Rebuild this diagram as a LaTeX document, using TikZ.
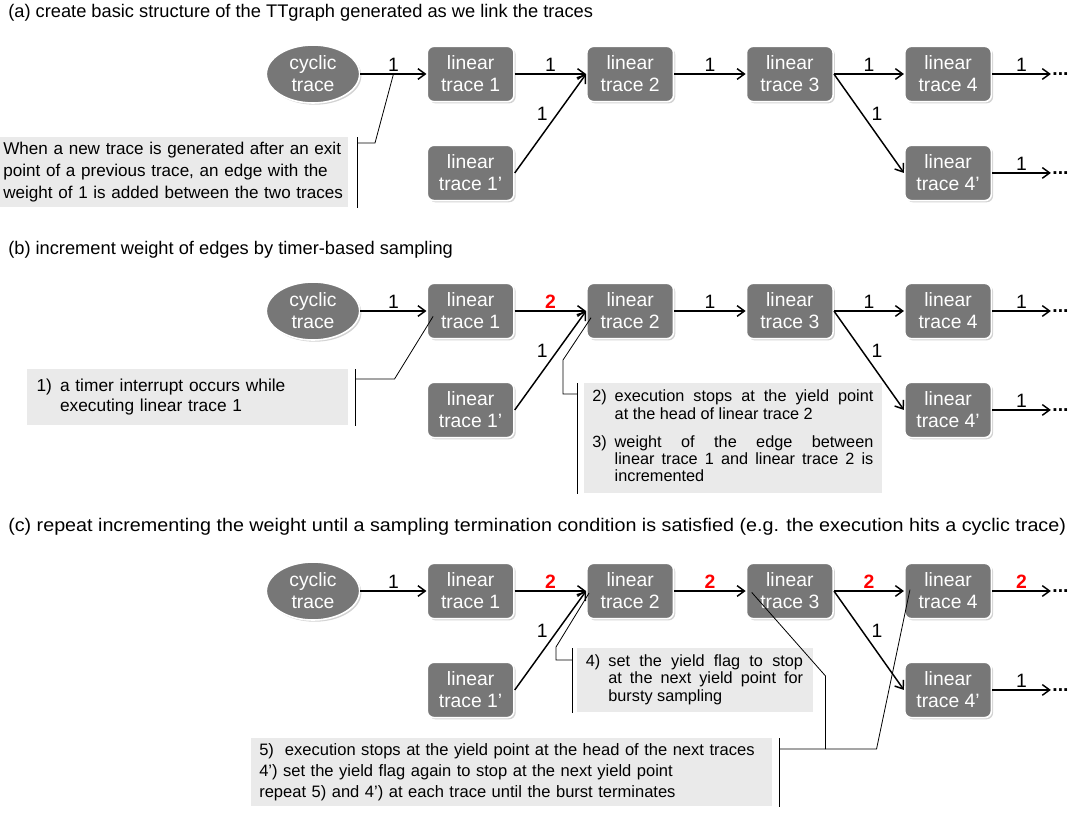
\documentclass[tikz,border=0pt]{standalone}
\usepackage{fontspec}
\setmainfont{Liberation Sans}
\newfontfamily\widesans[FakeStretch=1.08]{Liberation Sans}
\usetikzlibrary{shapes, arrows.meta, positioning, shadows}
\definecolor{tracegray}{RGB}{119,119,119}
\definecolor{notegray}{RGB}{234,234,234}
\tikzstyle{linear} = [rectangle, rounded corners=5pt, fill=tracegray, draw=white, line width=1.2pt, text=white, align=center, minimum width=65pt, minimum height=41.5pt, inner sep=1pt, font=\fontsize{14.5}{16.5}\selectfont, drop shadow={shadow xshift=1.3pt, shadow yshift=-1.3pt, opacity=0.35}]
\tikzstyle{cyclic} = [linear, ellipse, minimum width=70pt, minimum height=43.5pt, inner sep=0pt]
\tikzstyle{edge} = [line width=1.1pt, -{Straight Barb[length=5.5pt,width=8pt]}]
\tikzstyle{weight} = [inner sep=1.5pt, font=\fontsize{14.5}{16}\selectfont]
\tikzstyle{hot} = [weight, text=red, font=\fontsize{14.5}{16}\selectfont\bfseries]
\tikzstyle{dots} = [inner sep=1pt, font=\fontsize{14.5}{16}\selectfont\bfseries]
\tikzstyle{note} = [fill=notegray, anchor=north west, align=left, inner xsep=6pt]
\tikzstyle{leader} = [line width=0.6pt]
\tikzstyle{heading} = [anchor=west, inner sep=0pt, font=\fontsize{13.7}{16}\selectfont]

\begin{document}
\begin{tikzpicture}[x=0.75pt, y=-0.75pt]
	\useasboundingbox (0,0) rectangle (1070,814);

	% (a) basic structure
	\node[heading] (ta) at (8,13) {(a) create basic structure of the TTgraph generated as we link the traces};
	\node[cyclic] (ac) at (313,74) {cyclic\\trace};
	\node[linear, right=49.5pt of ac] (a1) {linear\\trace 1};
	\node[linear, right=53.5pt of a1] (a2) {linear\\trace 2};
	\node[linear, right=53.5pt of a2] (a3) {linear\\trace 3};
	\node[linear, right=52.5pt of a3] (a4) {linear\\trace 4};
	\node[linear, below=31.5pt of a1] (a1p) {linear\\trace 1'};
	\node[linear, below=31.5pt of a4] (a4p) {linear\\trace 4'};
	\node[dots, right=44pt of a4] (a5) {...};
	\node[dots, right=44pt of a4p] (a5p) {...};

	\draw[edge] (ac) -- node[weight, above] {1} coordinate[midway] (am) (a1);
	\draw[edge] (a1) -- node[weight, above] {1} (a2);
	\draw[edge] (a1p.east) -- node[weight, above left] {1} (a2.west);
	\draw[edge] (a2) -- node[weight, above] {1} (a3);
	\draw[edge] (a3) -- node[weight, above] {1} (a4);
	\draw[edge] (a3.east) -- node[weight, above right] {1} (a4p.west);
	\draw[edge] (a4) -- node[weight, above] {1} (a5);
	\draw[edge] (a4p) -- node[weight, above] {1} (a5p);

	\node[note, inner xsep=2.3pt, text width=256pt, minimum height=52.5pt, font=\fontsize{12.8}{16.5}\selectfont] (an) at (0,137)
		{When a new trace is generated after an exit\\point of a previous trace, an edge with the\\weight of 1 is added between the two traces};
	\draw[leader] ([xshift=6.75pt]an.north east) -- ([xshift=6.75pt]an.south east);
	\draw[leader] ([xshift=6.75pt,yshift=-4.5pt]an.north east) -- ++(13.5pt,0) -- (am);

	% (b) timer-based sampling
	\node[heading] (tb) at (8,250) {(b) increment weight of edges by timer-based sampling};
	\node[cyclic] (bc) at (313,311) {cyclic\\trace};
	\node[linear, right=49.5pt of bc] (b1) {linear\\trace 1};
	\node[linear, right=53.5pt of b1] (b2) {linear\\trace 2};
	\node[linear, right=53.5pt of b2] (b3) {linear\\trace 3};
	\node[linear, right=52.5pt of b3] (b4) {linear\\trace 4};
	\node[linear, below=31.5pt of b1] (b1p) {linear\\trace 1'};
	\node[linear, below=31.5pt of b4] (b4p) {linear\\trace 4'};
	\node[dots, right=44pt of b4] (b5) {...};
	\node[dots, right=44pt of b4p] (b5p) {...};

	\draw[edge] (bc) -- node[weight, above] {1} (b1);
	\draw[edge] (b1) -- node[hot, above] {2} (b2);
	\draw[edge] (b1p.east) -- node[weight, above left] {1} (b2.west);
	\draw[edge] (b2) -- node[weight, above] {1} (b3);
	\draw[edge] (b3) -- node[weight, above] {1} (b4);
	\draw[edge] (b3.east) -- node[weight, above right] {1} (b4p.west);
	\draw[edge] (b4) -- node[weight, above] {1} (b5);
	\draw[edge] (b4p) -- node[weight, above] {1} (b5p);

	\node[note, inner xsep=7pt, text width=226.75pt, minimum height=42pt, font=\fontsize{13}{15}\selectfont] (bn1) at (27,369)
		{\begin{tabular}{@{}l@{\hspace{6pt}}l@{}}1) & a timer interrupt occurs while\\ & executing linear trace 1\end{tabular}};
	\draw[leader] ([xshift=5.25pt]bn1.north east) -- ([xshift=5.25pt]bn1.south east);
	\draw[leader] ([xshift=5.25pt,yshift=-7.5pt]bn1.north east) -- ++(29.25pt,0) -- ([xshift=5pt,yshift=-4pt]b1.west);

	\node[note, align=justify, text width=211.5pt, minimum height=82.5pt, font=\fontsize{12.2}{12.9}\selectfont] (bn2) at (584,383)
		{\begin{tabular}{@{}l@{\hspace{6pt}}p{194pt}@{}}
		2) & execution stops at the yield point\linebreak at the head of linear trace 2\\[8pt]
		3) & weight of the edge between\linebreak linear trace 1 and linear trace 2 is\linebreak incremented
		\end{tabular}};
	\draw[leader] ([xshift=-5.25pt]bn2.north west) -- ([xshift=-5.25pt]bn2.south west);
	\draw[leader] ([xshift=-5.25pt,yshift=-8.25pt]bn2.north west) -- ++(-10.5pt,0) -- ++(0,25.5pt) -- ([xshift=3.75pt,yshift=-5pt]b2.west);

	% (c) bursty sampling
	\node[heading, font=\widesans\fontsize{13.7}{16}\selectfont] (tc) at (8,527) {(c) repeat incrementing the weight until a sampling termination condition is satisfied (e.g. the execution hits a cyclic trace)};
	\node[cyclic] (cc) at (313,591) {cyclic\\trace};
	\node[linear, right=49.5pt of cc] (c1) {linear\\trace 1};
	\node[linear, right=53.5pt of c1] (c2) {linear\\trace 2};
	\node[linear, right=53.5pt of c2] (c3) {linear\\trace 3};
	\node[linear, right=52.5pt of c3] (c4) {linear\\trace 4};
	\node[linear, below=31.5pt of c1] (c1p) {linear\\trace 1'};
	\node[linear, below=31.5pt of c4] (c4p) {linear\\trace 4'};
	\node[dots, right=44pt of c4] (c5) {...};
	\node[dots, right=44pt of c4p] (c5p) {...};

	\draw[edge] (cc) -- node[weight, above] {1} (c1);
	\draw[edge] (c1) -- node[hot, above] {2} (c2);
	\draw[edge] (c1p.east) -- node[weight, above left] {1} (c2.west);
	\draw[edge] (c2) -- node[hot, above] {2} (c3);
	\draw[edge] (c3) -- node[hot, above] {2} (c4);
	\draw[edge] (c3.east) -- node[weight, above right] {1} (c4p.west);
	\draw[edge] (c4) -- node[hot, above] {2} (c5);
	\draw[edge] (c4p) -- node[weight, above] {1} (c5p);

	\node[note, align=justify, inner xsep=6.5pt, text width=164pt, minimum height=48pt, font=\fontsize{12.2}{13.1}\selectfont] (cn4) at (577,648)
		{\begin{tabular}{@{}l@{\hspace{6pt}}p{146pt}@{}}
		4) & set the yield flag to stop\linebreak at the next yield point for\linebreak bursty sampling
		\end{tabular}};
	\draw[leader] ([xshift=-3.75pt]cn4.north west) -- ([xshift=-3.75pt]cn4.south west);
	\draw[leader] ([xshift=-3.75pt,yshift=-9pt]cn4.north west) -- ++(-12pt,0) -- ++(0,9.75pt) -- ([xshift=2.25pt,yshift=-1.5pt]c2.west);

	\node[note, text width=378.75pt, minimum height=51pt, font=\fontsize{12.4}{15.75}\selectfont] (cn5) at (251,738)
		{5)\ \ execution stops at the yield point at the head of the next traces\\4') set the yield flag again to stop at the next yield point\\repeat 5) and 4') at each trace until the burst terminates};
	\draw[leader] ([xshift=5.25pt]cn5.north east) -- ([xshift=5.25pt]cn5.south east);
	\draw[leader] ([xshift=5.25pt,yshift=-8.25pt]cn5.north east) -- ++(72.75pt,0) -- ([xshift=4.5pt,yshift=1pt]c4.west);
	\draw[leader] ([xshift=39.75pt,yshift=-8.25pt]cn5.north east) -- ++(0,54.75pt) -- ([xshift=4.5pt,yshift=-1pt]c3.west);
\end{tikzpicture}
\end{document}
